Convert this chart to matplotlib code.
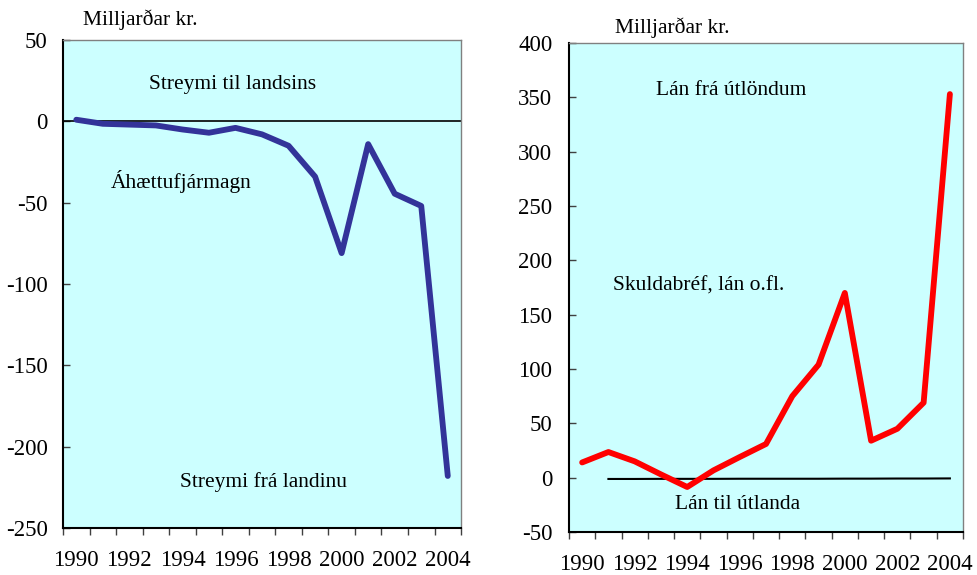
import matplotlib.pyplot as plt
import numpy as np

plt.rcParams['font.family'] = ['Liberation Serif', 'DejaVu Serif']
plt.rcParams['axes.unicode_minus'] = False

years = list(range(1990, 2005))
ahaettufjarmagn = [1, -1.5, -2, -2.5, -5, -7, -4, -8, -15, -34, -81, -14, -44.5, -52, -218]
skuldabref = [14, 23.6, 15, 3, -8.6, 6.7, 19, 31, 75, 104, 170, 34, 45, 69, 353]
lan_til_utlanda_years = list(range(1991, 2005))
lan_til_utlanda = [-1.2, -1.2, -1.1, -1.1, -1.1, -1, -1, -1, -1, -0.9, -0.9, -0.8, -0.8, -0.7]

bg = '#ccffff'
fig = plt.figure(figsize=(9.77, 5.75), dpi=100)
ax1 = fig.add_axes([0.0645, 0.0817, 0.4074, 0.8487])
ax2 = fig.add_axes([0.5824, 0.0748, 0.4033, 0.8504])


def style(ax, ylim, yticks, ypad):
    ax.set_facecolor(bg)
    ax.set_xlim(-0.5, len(years) - 0.5)
    ax.set_ylim(*ylim)
    ax.set_yticks(yticks)
    ax.set_xticks(np.arange(0, len(years), 2))
    ax.set_xticklabels([str(y) for y in years[::2]])
    ax.set_xticks(np.arange(-0.5, len(years), 1), minor=True)
    ax.tick_params(axis='x', which='major', length=0, pad=16, labelsize=16.5)
    ax.tick_params(axis='x', which='minor', length=5, width=1, direction='out', color='#404040')
    ax.tick_params(axis='y', length=5, width=1, direction='in', pad=ypad, labelsize=16.5, color='#404040')
    for s in ['left', 'bottom']:
        ax.spines[s].set_linewidth(1.5)
        ax.spines[s].set_color('black')
    for s in ['top', 'right']:
        ax.spines[s].set_linewidth(1)
        ax.spines[s].set_color('#808080')


x = np.arange(len(years))

# venstri mynd
style(ax1, (-250, 50), range(-250, 51, 50), 11)
ax1.axhline(0, color='black', lw=1.2)
ax1.plot(x, ahaettufjarmagn, color='#333399', lw=4.2, solid_capstyle='round')
ax1.text(5.9, 22.8, 'Streymi til landsins', ha='center', va='center', fontsize=15.5)
ax1.text(3.95, -37, 'Áhættufjármagn', ha='center', va='center', fontsize=15.5)
ax1.text(7.04, -221.6, 'Streymi frá landinu', ha='center', va='center', fontsize=15.5)
fig.text(0.085, 0.965, 'Milljarðar kr.', ha='left', va='center', fontsize=15.5)

# hægri mynd
style(ax2, (-50, 400), range(-50, 401, 50), 12)
x2 = [years.index(y) for y in lan_til_utlanda_years]
ax2.plot(x2, lan_til_utlanda, color='black', lw=1.5)
ax2.plot(x, skuldabref, color='#ff0000', lw=4.2, solid_capstyle='round')
ax2.text(5.68, 356, 'Lán frá útlöndum', ha='center', va='center', fontsize=15.5)
ax2.text(4.42, 176.6, 'Skuldabréf, lán o.fl.', ha='center', va='center', fontsize=15.5)
ax2.text(5.91, -24.8, 'Lán til útlanda', ha='center', va='center', fontsize=15.5)
fig.text(0.629, 0.951, 'Milljarðar kr.', ha='left', va='center', fontsize=15.5)

fig.savefig('out.png', dpi=100)
